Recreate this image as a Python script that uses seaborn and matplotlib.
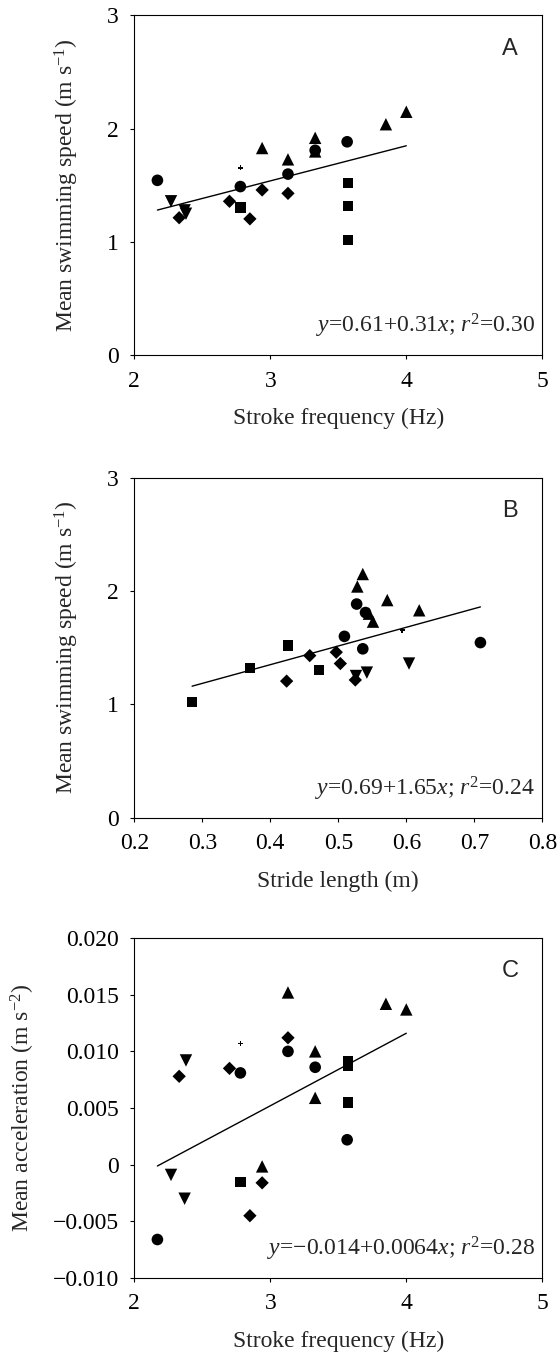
import numpy as np
import pandas as pd
import matplotlib
matplotlib.use('Agg')
import matplotlib.pyplot as plt
import seaborn as sns

# One row per fish: marker group, stroke frequency (Hz), stride length (m),
# mean swimming speed (m/s), mean acceleration (m/s^2)
group = ['circle'] * 5 + ['square'] * 4 + ['diamond'] * 5 + ['down'] * 3 + ['up'] * 6 + ['plus']
freq = [2.17, 2.78, 3.13, 3.33, 3.565,
        2.78, 3.57, 3.57, 3.57,
        2.33, 2.70, 2.85, 2.94, 3.13,
        2.27, 2.38, 2.37,
        2.94, 3.13, 3.33, 3.33, 3.85, 4.00,
        2.78]
stride = [0.709, 0.536, 0.509, 0.540, 0.527,
          0.472, 0.426, 0.370, 0.285,
          0.525, 0.503, 0.424, 0.497, 0.458,
          0.604, 0.526, 0.542,
          0.619, 0.551, 0.572, 0.545, 0.528, 0.536,
          0.594]
speed = [1.545, 1.49, 1.60, 1.81, 1.885,
         1.305, 1.52, 1.32, 1.02,
         1.215, 1.36, 1.205, 1.46, 1.43,
         1.36, 1.25, 1.28,
         1.83, 1.73, 1.92, 1.80, 2.04, 2.15,
         1.655]
accel = [-0.0066, 0.0081, 0.0100, 0.0086, 0.0022,
         -0.0015, 0.0091, 0.0087, 0.0055,
         0.0078, 0.0085, -0.0045, -0.0016, 0.0112,
         -0.0009, 0.0092, -0.0030,
         -0.00015, 0.0152, 0.0100, 0.0059, 0.0142, 0.0137,
         0.0107]

# regression coefficients printed in each panel
fit_a = (0.61, 0.31, 0.30)
fit_b = (0.69, 1.65, 0.24)
fit_c = (-0.014, 0.0064, 0.28)

freq_ticks = [2, 3, 4, 5]
stride_ticks = [0.2, 0.3, 0.4, 0.5, 0.6, 0.7, 0.8]
speed_ticks = [0, 1, 2, 3]
accel_ticks = [-0.010, -0.005, 0, 0.005, 0.010, 0.015, 0.020]
accel_labels = ['\u22120.010', '\u22120.005', '0', '0.005', '0.010', '0.015', '0.020']

df = pd.DataFrame({'group': group, 'freq': freq, 'stride': stride,
                   'speed': speed, 'accel': accel})

markers = {'circle': 'o', 'square': 's', 'diamond': 'D', 'down': 'v', 'up': '^', 'plus': 'P'}
sizes = {'circle': 70, 'square': 56, 'diamond': 46, 'down': 80, 'up': 80, 'plus': 12}

sns.set_style('ticks')
plt.rcParams['font.family'] = ['Liberation Serif', 'DejaVu Serif']
plt.rcParams['mathtext.fontset'] = 'custom'
plt.rcParams['mathtext.rm'] = 'Liberation Serif'
plt.rcParams['mathtext.it'] = 'Liberation Serif:italic'
plt.rcParams['font.size'] = 17

fig = plt.figure(figsize=(5.6, 13.54), dpi=100)
left, width, height = 0.2398, 0.7286, 0.2511
bottoms = [0.7375, 0.3961, 0.0561]


def panel(ax, xcol, ycol, fit, letter, eq):
    sns.scatterplot(data=df, x=xcol, y=ycol, style='group', markers=markers,
                    size='group', sizes=sizes, color='black', linewidth=0,
                    legend=False, ax=ax)
    xs = np.array([df[xcol].min(), df[xcol].max()])
    sns.lineplot(x=xs, y=fit[0] + fit[1] * xs, color='black', lw=1.0, ax=ax)
    ax.text(0.921, 0.902, letter, transform=ax.transAxes, ha='center', va='center',
            family=['Liberation Sans'], fontsize=17)
    ax.text(0.982, 0.066, eq, transform=ax.transAxes, ha='right', va='baseline',
            fontsize=17)
    for s in ax.spines.values():
        s.set_linewidth(0.8)
        s.set_color('black')
        s.set_visible(True)
    ax.tick_params(direction='out', length=3, width=0.8, pad=8, labelsize=17,
                   colors='black')


ax1 = fig.add_axes([left, bottoms[0], width, height])
panel(ax1, 'freq', 'speed', fit_a, 'A', r'$y$=0.61+0.31$x$; $r^2$=0.30')
ax1.set_xlim(2, 5)
ax1.set_ylim(0, 3)
ax1.set_xticks(freq_ticks)
ax1.set_yticks(speed_ticks)
ax1.set_xlabel('Stroke frequency (Hz)')
ax1.set_ylabel('Mean swimming speed (m s$^{-1}$)')

ax2 = fig.add_axes([left, bottoms[1], width, height])
panel(ax2, 'stride', 'speed', fit_b, 'B', r'$y$=0.69+1.65$x$; $r^2$=0.24')
ax2.set_xlim(0.2, 0.8)
ax2.set_ylim(0, 3)
ax2.set_xticks(stride_ticks)
ax2.set_xticklabels([f'{t:.1f}' for t in stride_ticks])
ax2.set_yticks(speed_ticks)
ax2.set_xlabel('Stride length (m)')
ax2.set_ylabel('Mean swimming speed (m s$^{-1}$)')

ax3 = fig.add_axes([left, bottoms[2], width, height])
panel(ax3, 'freq', 'accel', fit_c, 'C', '$y$=\u22120.014+0.0064$x$; $r^2$=0.28')
ax3.set_xlim(2, 5)
ax3.set_ylim(-0.010, 0.020)
ax3.set_xticks(freq_ticks)
ax3.set_yticks(accel_ticks)
ax3.set_yticklabels(accel_labels)
ax3.set_xlabel('Stroke frequency (Hz)')
ax3.set_ylabel('Mean acceleration (m s$^{-2}$)')

for ax in (ax1, ax2, ax3):
    ax.xaxis.set_label_coords(0.5, -0.155)
ax1.yaxis.set_label_coords(-0.131, 0.5)
ax2.yaxis.set_label_coords(-0.131, 0.5)
ax3.yaxis.set_label_coords(-0.238, 0.5)

fig.savefig('out.png', dpi=100)
